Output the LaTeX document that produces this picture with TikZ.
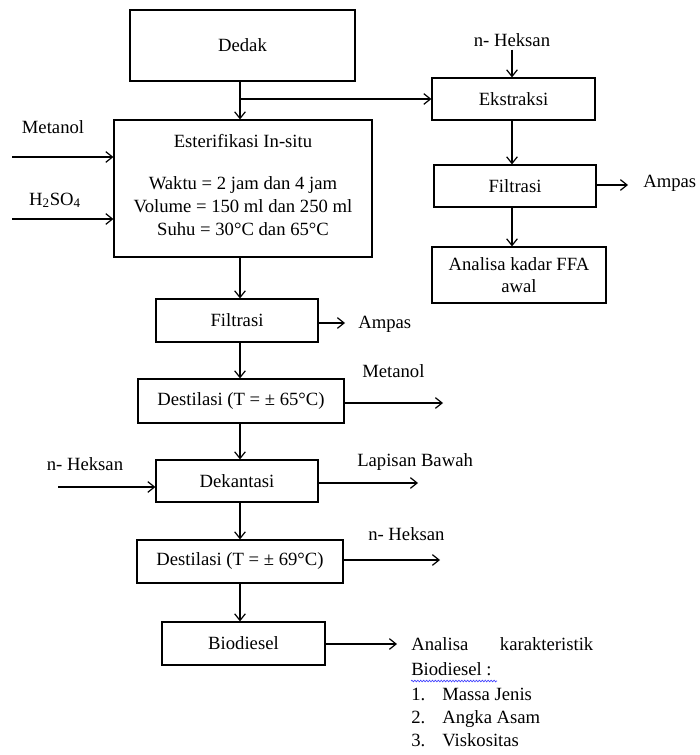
\documentclass[tikz,border=0pt]{standalone}
\usepackage{fontspec}
\setmainfont{Liberation Serif}
\usetikzlibrary{arrows.meta,decorations.pathmorphing,calc}
\begin{document}
\begin{tikzpicture}[x=0.75pt,y=-0.75pt,
  box/.style={draw, line width=0.9pt, inner sep=0pt, font=\fontsize{14}{17}\selectfont, align=center},
  sz/.style 2 args={minimum width=#1*0.75pt, minimum height=#2*0.75pt},
  lbl/.style={inner sep=0pt, font=\fontsize{14}{17}\selectfont},
  arr/.style={line width=0.9pt, -{Straight Barb[length=5pt,width=8pt]}}]
\useasboundingbox (0,0) rectangle (699,755);

% boxes
\node[box, sz={225}{71}] (dedak) at (242.5,45.5) {Dedak};
\node[box, sz={258}{137}] (ester) at (243,188.5) {};
\node[lbl, align=center, anchor=center] (esterT) at (243,185) {Esterifikasi In-situ\\[14.5pt]Waktu = 2 jam dan 4 jam\\Volume = 150 ml dan 250 ml\\Suhu = 30°C dan 65°C};
\node[box, sz={163}{42}] (ekstr) at (513.5,99) {Ekstraksi};
\node[box, sz={162}{42}] (filtb) at (515,186) {Filtrasi};
\node[box, sz={174}{56}] (ffa) at (519,275) {Analisa kadar FFA\\awal};
\node[box, sz={162}{43}] (filta) at (237,320.5) {Filtrasi};
\node[box, sz={206}{44}] (desta) at (241,401) {Destilasi (T = ± 65°C)};
\node[box, sz={162}{42}] (dekan) at (237,481) {Dekantasi};
\node[box, sz={206}{43}] (destb) at (240,561.5) {Destilasi (T = ± 69°C)};
\node[box, sz={163}{43}] (bio) at (243.5,643.5) {Biodiesel};

% helper axes
\coordinate (ax) at (240,0);
\coordinate (bx) at (512,0);

% main column
\draw[arr] (dedak.south -| ax) -- (ester.north -| ax);
\coordinate (br) at (240,99);
\draw[arr] (br) -- (ekstr.west);
\draw[arr] (ester.south -| ax) -- (filta.north -| ax);
\draw[arr] (filta.south -| ax) -- (desta.north -| ax);
\draw[arr] (desta.south -| ax) -- (dekan.north -| ax);
\draw[arr] (dekan.south -| ax) -- (destb.north -| ax);
\draw[arr] (destb.south -| ax) -- (bio.north -| ax);

% right column
\node[lbl, anchor=mid] (hk1) at (512,43) {n- Heksan};
\draw[arr] ($(hk1.south -| bx)+(0,3)$) -- (ekstr.north -| bx);
\draw[arr] (ekstr.south -| bx) -- (filtb.north -| bx);
\draw[arr] (filtb.south -| bx) -- (ffa.north -| bx);
\coordinate (amp1) at (628,185);
\draw[arr] (filtb.east |- amp1) -- (amp1);
\node[lbl, anchor=mid west] (ampL1) at (643,184) {Ampas};

% inputs to esterification
\node[lbl, anchor=mid] (met) at (53,130) {Metanol};
\coordinate (m0) at (12,157);
\draw[arr] (m0) -- (ester.west |- m0);
\node[lbl, anchor=mid] (h2) at (55,202) {H\textsubscript{2}SO\textsubscript{4}};
\coordinate (h0) at (12,219);
\draw[arr] (h0) -- (ester.west |- h0);

% side outputs
\coordinate (amp2) at (345,323);
\draw[arr] (filta.east |- amp2) -- (amp2);
\node[lbl, anchor=mid west] (ampL2) at (358,325) {Ampas};

\coordinate (met2) at (443,403);
\draw[arr] (desta.east |- met2) -- (met2);
\node[lbl, anchor=mid west] (metL2) at (362,374) {Metanol};

\node[lbl, anchor=mid] (hk2) at (85,467) {n- Heksan};
\coordinate (hk0) at (58,487);
\draw[arr] (hk0) -- (dekan.west |- hk0);
\coordinate (lb) at (418,483);
\draw[arr] (dekan.east |- lb) -- (lb);
\node[lbl, anchor=mid west] (lbL) at (357,463) {Lapisan Bawah};

\coordinate (hk3) at (440,560);
\draw[arr] (destb.east |- hk3) -- (hk3);
\node[lbl, anchor=mid west] (hk3L) at (368,537) {n- Heksan};

\coordinate (an) at (397,644);
\draw[arr] (bio.east |- an) -- (an);

% analysis list
\node[lbl, anchor=mid west] (an1) at (411,647) {\hbox to 136.5pt{Analisa\hfill karakteristik}};
\node[lbl, anchor=mid west] (an2) at (411,672) {Biodiesel :};
\draw[blue!75, line width=0.5pt, decorate, decoration={snake, amplitude=0.6pt, segment length=2.2pt}] (411,681) -- (497,681);
\node[lbl, anchor=mid west] (n1) at (411,697) {1.};
\node[lbl, anchor=mid west] (t1) at (442,697) {Massa Jenis};
\node[lbl, anchor=mid west] (n2) at (411,720) {2.};
\node[lbl, anchor=mid west] (t2) at (442,720) {Angka Asam};
\node[lbl, anchor=mid west] (n3) at (411,743) {3.};
\node[lbl, anchor=mid west] (t3) at (442,743) {Viskositas};
\end{tikzpicture}
\end{document}
